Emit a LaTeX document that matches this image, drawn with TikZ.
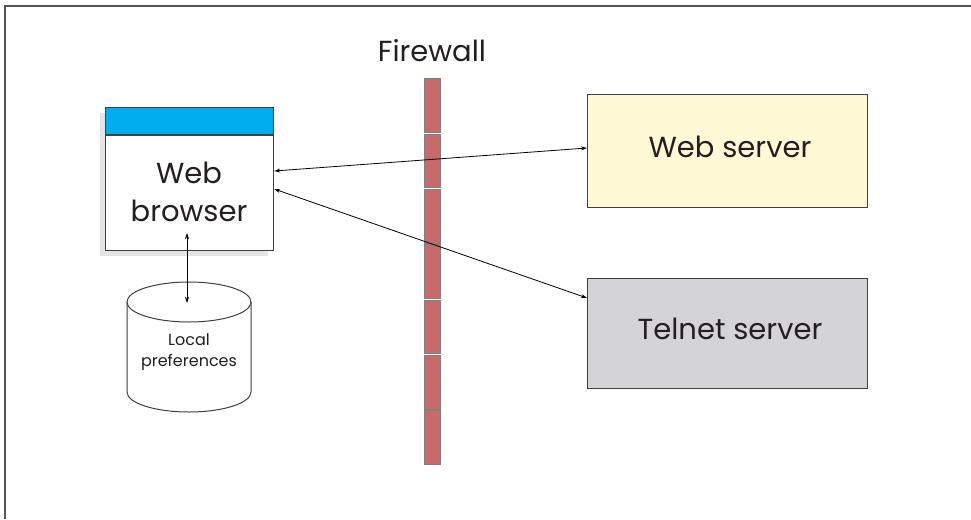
\documentclass[tikz,border=0pt]{standalone}
\usepackage{fontspec}
\setmainfont{Poppins}
\usetikzlibrary{arrows.meta}
\definecolor{frameline}{HTML}{555555}
\definecolor{boxline}{HTML}{3F3F3F}
\definecolor{headblue}{HTML}{00AEEF}
\definecolor{shadowgray}{HTML}{E4E4E6}
\definecolor{brick}{HTML}{C86A6A}
\definecolor{brickline}{HTML}{808080}
\definecolor{webfill}{HTML}{FFF9D6}
\definecolor{telfill}{HTML}{D4D4D6}
\definecolor{textdark}{HTML}{231F20}
\tikzset{
  boxstyle/.style={draw=boxline, line width=1.2pt},
  conn/.style={draw=black, line width=0.8pt, {Stealth[length=6pt,width=4pt]}-{Stealth[length=6pt,width=4pt]}},
  bigtext/.style={font=\fontsize{29}{38}\selectfont, text=textdark, align=center},
  smalltext/.style={font=\fontsize{16}{21}\selectfont, text=textdark, align=center}
}
\begin{document}
\begin{tikzpicture}[x=1pt,y=-1pt]
\useasboundingbox (0,0) rectangle (971,519);
% frame (top and left only)
\draw[frameline, line width=1.2pt] (5,519) -- (5,6) -- (971,6);
% browser shadow and box
\fill[shadowgray] (100,113) rectangle (268,256);
\node[boxstyle, fill=white, minimum width=168pt, minimum height=143pt, inner sep=0pt, anchor=north west] (browser) at (105,107) {};
\fill[headblue] (browser.north west) rectangle ([yshift=-28pt]browser.north east);
\draw[boxline, line width=1.2pt] ([yshift=-28pt]browser.north west) -- ([yshift=-28pt]browser.north east);
\node[boxstyle, minimum width=168pt, minimum height=143pt, inner sep=0pt, anchor=north west] at (105,107) {};
\node[bigtext] (browsertext) at (189,192) {Web\\browser};
% cylinder
\coordinate (cyl) at (189,302);
\draw[boxline, line width=1pt, fill=white] (127,302) -- (127,392) arc[start angle=180, end angle=360, x radius=62pt, y radius=20pt] -- (251,302);
\draw[boxline, line width=1pt, fill=white] (cyl) ellipse[x radius=62pt, y radius=20pt];
\node[smalltext] (local) at (189,352) {Local\\preferences};
% firewall
\foreach \i in {0,...,6} {
  \filldraw[fill=brick, draw=brickline, line width=1pt] (424,{78+\i*55.3+0.8}) rectangle (440,{78+(\i+1)*55.3-0.8});
}
\node[bigtext, anchor=base] (fwlabel) at (432,62) {Firewall};
% servers
\node[boxstyle, fill=webfill, minimum width=280pt, minimum height=113pt, inner sep=0pt, anchor=north west] (web) at (587,94) {};
\node[bigtext] at (730,147) {Web server};
\node[boxstyle, fill=telfill, minimum width=280pt, minimum height=110pt, inner sep=0pt, anchor=north west] (telnet) at (587,278) {};
\node[bigtext] at (730,329) {Telnet server};
% connectors
\coordinate (b1) at ([yshift=-64pt]browser.north east);
\coordinate (b2) at ([yshift=-82pt]browser.north east);
\coordinate (w1) at ([yshift=-54pt]web.north west);
\coordinate (t1) at ([yshift=-20pt]telnet.north west);
\coordinate (bd) at (187,233);
\coordinate (cd) at (187,303);
\draw[conn] (b1) -- (w1);
\draw[conn] (b2) -- (t1);
\draw[conn] (bd) -- (cd);
\end{tikzpicture}
\end{document}
